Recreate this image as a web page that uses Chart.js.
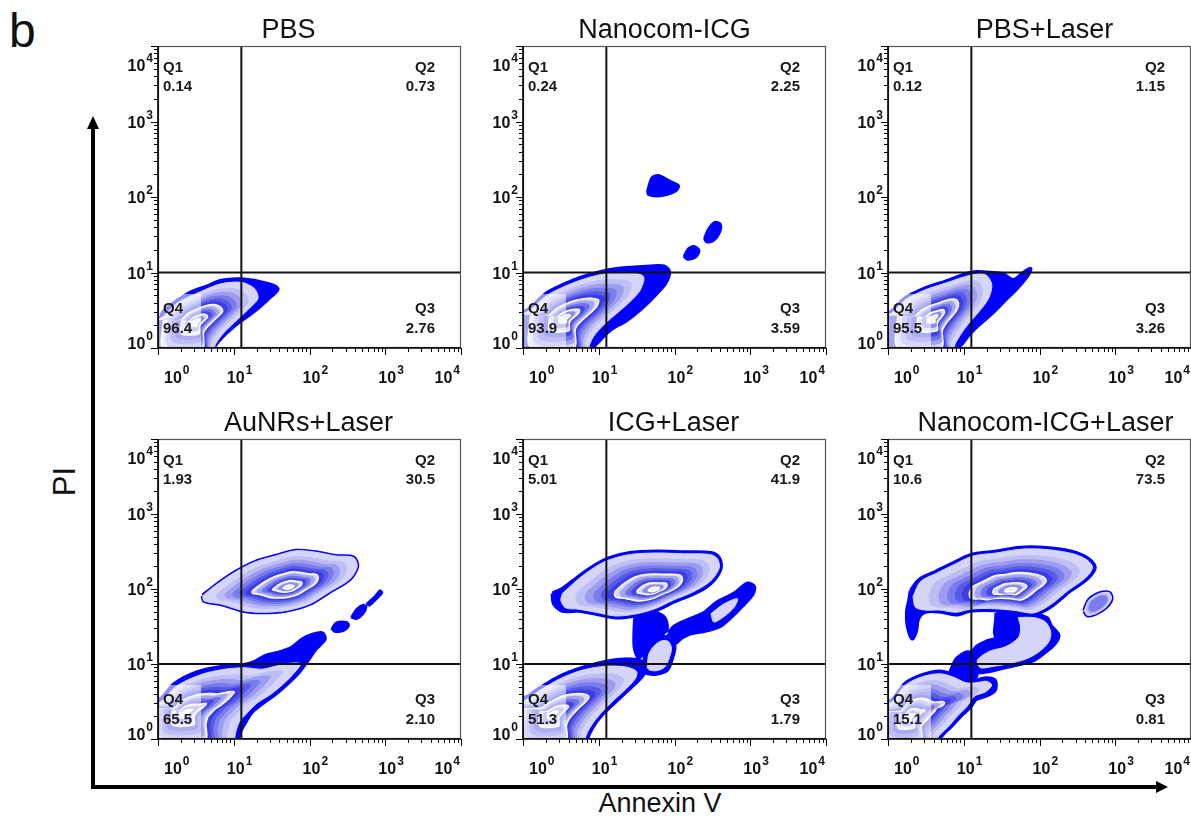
<!DOCTYPE html>
<html>
<head>
<meta charset="utf-8">
<script src="https://cdn.jsdelivr.net/npm/chart.js@4.4.1/dist/chart.umd.min.js"></script>
<style>
  html, body { margin: 0; padding: 0; background: #fff; overflow: hidden; width: 1191px; height: 823px; }
  #fig { position: relative; width: 1191px; height: 823px; }
  #fig canvas { position: absolute; }
  .txt { position: absolute; font-family: "Liberation Sans", Arial, sans-serif; color: #111; line-height: 1; white-space: nowrap; }
  .bar { position: absolute; background: #000; }
</style>
</head>
<body>
<div id="fig">
  <div class="txt" style="left:9px;top:7px;font-size:48px">b</div>
  <div class="txt" style="left:33.5px;top:466px;width:60px;height:31px;text-align:center;font-size:31px;transform:rotate(-90deg)">PI</div>
  <div class="txt" style="left:560px;top:790px;width:200px;text-align:center;font-size:27px">Annexin V</div>
  <div class="bar" style="left:90.5px;top:127px;width:4px;height:661px"></div>
  <div class="bar" style="left:90.5px;top:784.5px;width:1067px;height:4px"></div>
  <div style="position:absolute;left:86.5px;top:116px;width:0;height:0;border-left:6px solid transparent;border-right:6px solid transparent;border-bottom:13px solid #000"></div>
  <div style="position:absolute;left:1156px;top:780.5px;width:0;height:0;border-top:6px solid transparent;border-bottom:6px solid transparent;border-left:12px solid #000"></div>
</div>
<script>
// ---- data ----
const panelTitles = ["PBS", "Nanocom-ICG", "PBS+Laser", "AuNRs+Laser", "ICG+Laser", "Nanocom-ICG+Laser"];
const q1Values = ["0.14", "0.24", "0.12", "1.93", "5.01", "10.6"];
const q2Values = ["0.73", "2.25", "1.15", "30.5", "41.9", "73.5"];
const q3Values = ["2.76", "3.59", "3.26", "2.10", "1.79", "0.81"];
const q4Values = ["96.4", "93.9", "95.5", "65.5", "51.3", "15.1"];
const decadeTicks = [1, 10, 100, 1000, 10000];
const decadeExps = ["0", "1", "2", "3", "4"];
const gateAnnexin = 12.6;
const gatePI = 10;

// contour outlines, in decades [log10 AnnexinV, log10 PI]
const pbsEdge = [[-0.5,0.36],[0,0.36],[0.08,0.49],[0.40,0.72],[0.66,0.82],[0.83,0.89],[1.10,0.91],[1.45,0.85],[1.58,0.78],[1.45,0.65],[1.27,0.49],[1.00,0.29],[0.83,0.13],[0.74,0],[0.7,-0.5],[-0.5,-0.5],[-0.5,0.36]];
const pbsCore = [[-0.5,0.38],[0,0.38],[0.26,0.60],[0.57,0.75],[0.83,0.85],[1.10,0.87],[1.27,0.79],[1.32,0.66],[1.20,0.52],[1.00,0.33],[0.86,0.19],[0.74,0],[0.7,-0.5],[-0.5,-0.5],[-0.5,0.38]];
const pbsPeak = [0.5, 0.35];

const nanoEdge = [[-0.5,0.48],[0.01,0.48],[0.32,0.73],[0.63,0.88],[0.89,0.97],[1.13,1.03],[1.37,1.06],[1.68,1.08],[1.86,1.08],[1.93,1.01],[1.88,0.86],[1.77,0.73],[1.59,0.55],[1.37,0.37],[1.15,0.24],[0.98,0.07],[0.93,0],[0.9,-0.5],[-0.5,-0.5],[-0.5,0.48]];
const nanoCore = [[-0.5,0.46],[0.01,0.46],[0.32,0.70],[0.63,0.85],[0.89,0.94],[1.13,0.99],[1.37,1.0],[1.59,0.95],[1.55,0.77],[1.42,0.62],[1.24,0.46],[1.07,0.31],[0.93,0.15],[0.87,0],[0.85,-0.5],[-0.5,-0.5],[-0.5,0.46]];
const nanoPeak = [0.55, 0.4];
const nanoDotA = [[1.64,2.09],[1.70,2.26],[1.79,2.29],[1.93,2.22],[2.06,2.15],[2.01,2.07],[1.81,2.01],[1.65,2.03],[1.64,2.09]];
const nanoDotB = [[2.39,1.45],[2.44,1.57],[2.53,1.67],[2.61,1.64],[2.60,1.53],[2.52,1.42],[2.42,1.40],[2.39,1.45]];
const nanoDotC = [[2.12,1.21],[2.18,1.32],[2.26,1.35],[2.33,1.29],[2.28,1.20],[2.17,1.17],[2.12,1.21]];

const laserEdge = [[-0.5,0.46],[0,0.46],[0.23,0.66],[0.49,0.79],[0.76,0.88],[1.11,1.0],[1.29,1.0],[1.51,0.98],[1.66,0.90],[1.78,0.99],[1.88,1.05],[1.84,0.96],[1.70,0.79],[1.55,0.64],[1.37,0.46],[1.20,0.31],[1.07,0.18],[0.96,0.04],[0.91,0],[0.88,-0.5],[-0.5,-0.5],[-0.5,0.46]];
const laserCore = [[-0.5,0.44],[0,0.44],[0.23,0.64],[0.49,0.77],[0.76,0.86],[1.11,0.97],[1.29,0.97],[1.37,0.84],[1.33,0.66],[1.20,0.48],[1.07,0.33],[0.96,0.18],[0.87,0],[0.85,-0.5],[-0.5,-0.5],[-0.5,0.44]];
const laserPeak = [0.6, 0.4];

const aunrLowEdge = [[-0.5,0.51],[0,0.51],[0.21,0.73],[0.52,0.89],[0.83,0.96],[1.10,0.98],[1.28,1.03],[1.42,1.11],[1.59,1.15],[1.77,1.22],[1.91,1.33],[2.04,1.39],[2.17,1.41],[2.20,1.33],[2.08,1.20],[1.97,1.04],[1.86,0.89],[1.73,0.76],[1.55,0.60],[1.37,0.47],[1.24,0.36],[1.15,0.22],[1.08,0.09],[1.06,0],[1.04,-0.5],[-0.5,-0.5],[-0.5,0.51]];
const aunrLowCore = [[-0.5,0.48],[0,0.48],[0.25,0.71],[0.57,0.86],[0.88,0.93],[1.15,0.95],[1.37,0.93],[1.55,0.97],[1.75,1.01],[1.88,1.0],[1.78,0.86],[1.64,0.72],[1.48,0.59],[1.31,0.48],[1.18,0.35],[1.07,0.22],[1.01,0],[0.99,-0.5],[-0.5,-0.5],[-0.5,0.48]];
const aunrLowPeak = [0.35, 0.35];
const aunrHighEdge = [[0.59,1.91],[0.75,2.04],[1.01,2.22],[1.28,2.36],[1.55,2.44],[1.82,2.51],[2.08,2.49],[2.35,2.44],[2.58,2.42],[2.63,2.30],[2.53,2.13],[2.26,1.96],[2.0,1.80],[1.68,1.71],[1.37,1.69],[1.13,1.71],[0.83,1.80],[0.61,1.84],[0.59,1.91]];
const aunrHighPeak = [1.73, 2.02];
const aunrDot1 = [[2.29,1.47],[2.35,1.55],[2.49,1.56],[2.52,1.51],[2.44,1.44],[2.33,1.43],[2.29,1.47]];
const aunrDot2 = [[2.55,1.62],[2.62,1.73],[2.71,1.79],[2.75,1.76],[2.71,1.67],[2.62,1.60],[2.55,1.62]];
const aunrDot3 = [[2.75,1.80],[2.87,1.91],[2.93,1.98],[2.96,1.95],[2.89,1.87],[2.79,1.78],[2.75,1.80]];

const icgHighEdge = [[0.39,1.94],[0.52,2.0],[0.74,2.17],[0.96,2.32],[1.14,2.41],[1.41,2.48],[1.76,2.50],[2.12,2.49],[2.48,2.48],[2.59,2.41],[2.61,2.28],[2.52,2.12],[2.39,2.01],[2.21,1.92],[1.99,1.83],[1.76,1.72],[1.50,1.65],[1.23,1.62],[0.96,1.67],[0.74,1.71],[0.52,1.71],[0.41,1.80],[0.39,1.94]];
const icgHighCore = [[0.52,1.94],[0.74,2.14],[0.96,2.30],[1.14,2.39],[1.41,2.46],[1.76,2.48],[2.12,2.47],[2.47,2.46],[2.57,2.40],[2.59,2.28],[2.50,2.13],[2.37,2.03],[2.20,1.94],[1.98,1.85],[1.75,1.74],[1.50,1.67],[1.23,1.64],[0.96,1.69],[0.74,1.73],[0.56,1.75],[0.50,1.85],[0.52,1.94]];
const icgHighPeak = [1.74, 1.99];
const icgLowEdge = [[-0.5,0.54],[0,0.54],[0.21,0.67],[0.48,0.83],[0.79,0.95],[1.10,1.03],[1.36,1.06],[1.54,1.0],[1.60,0.89],[1.52,0.78],[1.36,0.63],[1.19,0.47],[1.03,0.31],[0.92,0.16],[0.85,0],[0.83,-0.5],[-0.5,-0.5],[-0.5,0.54]];
const icgLowCore = [[-0.5,0.51],[0,0.51],[0.21,0.64],[0.48,0.80],[0.79,0.92],[1.10,0.97],[1.36,0.96],[1.50,0.90],[1.48,0.80],[1.33,0.64],[1.16,0.48],[1.00,0.31],[0.89,0.16],[0.82,0],[0.80,-0.5],[-0.5,-0.5],[-0.5,0.51]];
const icgLowPeak = [0.39, 0.33];
const icgMidEdge = [[1.59,0.92],[1.62,1.14],[1.70,1.27],[1.83,1.36],[1.94,1.34],[2.0,1.23],[1.96,1.05],[1.90,0.92],[1.76,0.87],[1.64,0.88],[1.59,0.92]];
const icgMidCore = [[1.64,0.95],[1.66,1.13],[1.73,1.24],[1.83,1.31],[1.92,1.30],[1.96,1.21],[1.92,1.05],[1.86,0.95],[1.76,0.91],[1.67,0.92],[1.64,0.95]];
const icgNeck = [[1.46,1.50],[1.48,1.64],[1.59,1.68],[1.76,1.69],[1.88,1.62],[1.91,1.46],[1.81,1.36],[1.70,1.27],[1.61,1.14],[1.52,1.07],[1.46,1.23],[1.46,1.50]];
const icgJoin = [[1.10,1.01],[1.36,1.07],[1.56,1.05],[1.59,0.96],[1.50,0.92],[1.32,0.94],[1.14,0.96],[1.10,1.01]];
const icgBandEdge = [[1.92,1.41],[2.0,1.50],[2.16,1.58],[2.39,1.68],[2.56,1.82],[2.79,1.94],[2.96,2.07],[3.05,2.03],[3.03,1.93],[2.88,1.76],[2.74,1.62],[2.59,1.50],[2.39,1.44],[2.21,1.41],[2.08,1.34],[1.99,1.27],[1.92,1.41]];
const icgBandCore = [[2.48,1.67],[2.65,1.80],[2.83,1.87],[2.79,1.76],[2.65,1.63],[2.52,1.56],[2.48,1.67]];

const comboHighEdge = [[0.30,1.98],[0.41,2.12],[0.63,2.23],[0.85,2.34],[1.12,2.46],[1.43,2.50],[1.74,2.55],[2.05,2.55],[2.41,2.50],[2.63,2.41],[2.73,2.29],[2.63,2.14],[2.41,1.98],[2.14,1.76],[1.92,1.66],[1.70,1.69],[1.52,1.71],[1.30,1.72],[1.08,1.71],[0.90,1.66],[0.68,1.70],[0.50,1.70],[0.40,1.61],[0.37,1.44],[0.32,1.34],[0.26,1.51],[0.25,1.69],[0.28,1.85],[0.30,1.98]];
const comboHighCore = [[0.33,1.90],[0.43,2.10],[0.64,2.21],[0.86,2.32],[1.12,2.44],[1.43,2.48],[1.74,2.53],[2.05,2.53],[2.40,2.48],[2.61,2.40],[2.70,2.29],[2.61,2.15],[2.39,1.99],[2.13,1.78],[1.92,1.68],[1.70,1.71],[1.52,1.73],[1.30,1.74],[1.08,1.73],[0.90,1.69],[0.68,1.72],[0.48,1.72],[0.36,1.76],[0.33,1.90]];
const comboHighPeak = [1.63, 1.98];
const comboMidEdge = [[1.43,1.68],[1.70,1.70],[1.92,1.67],[2.10,1.61],[2.15,1.51],[2.25,1.38],[2.19,1.26],[2.05,1.14],[1.92,1.05],[1.74,1.0],[1.52,0.95],[1.30,0.90],[1.16,0.90],[1.08,1.05],[1.16,1.22],[1.30,1.30],[1.43,1.35],[1.43,1.50],[1.43,1.68]];
const comboMidCore = [[1.72,1.62],[1.92,1.62],[2.08,1.56],[2.15,1.42],[2.12,1.29],[1.99,1.16],[1.83,1.07],[1.62,1.01],[1.40,0.97],[1.22,0.95],[1.18,1.05],[1.34,1.17],[1.55,1.23],[1.72,1.35],[1.75,1.48],[1.72,1.62]];
const comboNeck = [[1.43,1.68],[1.55,1.66],[1.68,1.60],[1.72,1.45],[1.62,1.31],[1.48,1.30],[1.40,1.40],[1.43,1.68]];
const comboKnot = [[0.81,0.90],[0.90,1.08],[1.05,1.17],[1.16,1.12],[1.19,0.94],[1.16,0.81],[0.99,0.81],[0.83,0.81],[0.81,0.90]];
const comboLowEdge = [[-0.5,0.49],[0.01,0.49],[0.23,0.74],[0.45,0.85],[0.68,0.90],[0.85,0.86],[1.03,0.78],[1.16,0.78],[1.30,0.81],[1.41,0.78],[1.41,0.65],[1.30,0.58],[1.16,0.53],[1.08,0.42],[0.96,0.31],[0.85,0.19],[0.74,0.08],[0.68,0],[0.66,-0.5],[-0.5,-0.5],[-0.5,0.49]];
const comboLowCore = [[-0.5,0.47],[0.01,0.47],[0.23,0.72],[0.45,0.83],[0.68,0.87],[0.85,0.83],[1.03,0.75],[1.16,0.75],[1.30,0.77],[1.37,0.72],[1.29,0.63],[1.14,0.57],[1.04,0.43],[0.93,0.32],[0.82,0.19],[0.71,0.08],[0.65,0],[0.63,-0.5],[-0.5,-0.5],[-0.5,0.47]];
const comboLowPeak = [0.28, 0.3];
const comboRing = [[2.59,1.71],[2.65,1.85],[2.79,1.94],[2.92,1.95],[2.95,1.87],[2.88,1.76],[2.74,1.67],[2.63,1.65],[2.59,1.71]];
const comboRingPeak = [2.77, 1.81];

// which shapes go in which panel
const panels = [
  { blobs: [], pops: [{ edge: pbsEdge, core: pbsCore, peak: pbsPeak, rings: 12 }] },
  { blobs: [nanoDotA, nanoDotB, nanoDotC], pops: [{ edge: nanoEdge, core: nanoCore, peak: nanoPeak, rings: 12 }] },
  { blobs: [], pops: [{ edge: laserEdge, core: laserCore, peak: laserPeak, rings: 12 }] },
  { blobs: [aunrDot1, aunrDot2, aunrDot3], pops: [
      { edge: aunrLowEdge, core: aunrLowCore, peak: aunrLowPeak, rings: 12 },
      { edge: aunrHighEdge, peak: aunrHighPeak, rings: 12 }] },
  { blobs: [icgJoin, icgNeck], pops: [
      { edge: icgLowEdge, core: icgLowCore, peak: icgLowPeak, rings: 12 },
      { edge: icgMidEdge, core: icgMidCore, peak: null, rings: 0 },
      { edge: icgBandEdge, core: icgBandCore, peak: null, rings: 0 },
      { edge: icgHighEdge, core: icgHighCore, peak: icgHighPeak, rings: 12 }] },
  { blobs: [comboKnot, comboNeck], pops: [
      { edge: comboLowEdge, core: comboLowCore, peak: comboLowPeak, rings: 12 },
      { edge: comboMidEdge, core: comboMidCore, peak: null, rings: 0 },
      { edge: comboRing, peak: comboRingPeak, rings: 3 },
      { edge: comboHighEdge, core: comboHighCore, peak: comboHighPeak, rings: 12 }] },
];

// ---- look ----
const FONT = '"Liberation Sans", Arial, Helvetica, sans-serif';
const BLUE = "#0000ff";
const LAVENDER = "#d5d5f7";
const RING_STEPS = [
  { s: 0.84, c: "#bdbef4" },
  { s: 0.74, c: "#9c9df0" },
  { s: 0.65, c: "#7a7cec" },
  { s: 0.57, c: "#5759e8" },
  { s: 0.50, c: "#3a3ce4" },
  { s: 0.43, c: "#d6d6f7", white: true },
  { s: 0.37, c: "#a2a3f1" },
  { s: 0.31, c: "#7072eb" },
  { s: 0.25, c: "#4446e5" },
  { s: 0.19, c: "#d6d6f7", white: true },
  { s: 0.13, c: "#8a8cee" },
  { s: 0.07, c: "#eeeefc", white: true },
];
const COL_LEFT = [158, 523, 888];
const ROW_TOP = [46, 439];
const ROW_H = [302, 300];
const AREA_W = 303;
const PAD = { left: 60, top: 46, right: 12, bottom: 44 };
const TITLE_SHIFT = [-21, -10, 5, -1, -1, 6];

const toPoints = (poly) => poly.map(([lx, ly]) => ({ x: Math.pow(10, lx), y: Math.pow(10, ly) }));
const shrink = (poly, peak, s) =>
  poly.map(([lx, ly]) => [peak[0] + (lx - peak[0]) * s, peak[1] + (ly - peak[1]) * s]);

function shape(poly, fill, stroke, width) {
  return {
    data: toPoints(poly),
    showLine: true,
    fill: "shape",
    backgroundColor: fill,
    borderColor: stroke,
    borderWidth: width,
    borderJoinStyle: "round",
    pointRadius: 0,
    pointHoverRadius: 0,
    tension: 0.3,
    clip: 0,
  };
}

function gateLine(points) {
  return {
    data: points,
    showLine: true,
    fill: false,
    borderColor: "#111",
    borderWidth: 2,
    pointRadius: 0,
    pointHoverRadius: 0,
    tension: 0,
    clip: 0,
  };
}

function buildDatasets(panel) {
  const sets = [];
  panel.blobs.forEach((poly) => sets.push(shape(poly, BLUE, BLUE, 2)));
  panel.pops.forEach((pop) => {
    const core = pop.core || pop.edge;
    sets.push(shape(pop.edge, BLUE, BLUE, 4));
    sets.push(shape(core, LAVENDER, LAVENDER, 1));
    RING_STEPS.slice(0, pop.rings).forEach((step) => {
      const poly = shrink(core, pop.peak, step.s);
      sets.push(step.white ? shape(poly, step.c, "#ffffff", 1.4) : shape(poly, step.c, step.c, 1));
    });
  });
  sets.push(gateLine([{ x: gateAnnexin, y: 0.3 }, { x: gateAnnexin, y: 30000 }]));
  sets.push(gateLine([{ x: 0.3, y: gatePI }, { x: 30000, y: gatePI }]));
  sets.forEach((d, i) => { d.order = sets.length - i; });
  return sets;
}

function powLabel(ctx, exp, x, base, mode) {
  ctx.font = "bold 16px " + FONT;
  const w1 = ctx.measureText("10").width;
  ctx.font = "bold 12px " + FONT;
  const w2 = ctx.measureText(exp).width;
  let x0 = x - w1 / 2;
  if (mode === "left") x0 = x;
  if (mode === "right") x0 = x - w1 - 1 - w2;
  ctx.textAlign = "left";
  ctx.font = "bold 16px " + FONT;
  ctx.fillText("10", x0, base);
  ctx.font = "bold 12px " + FONT;
  ctx.fillText(exp, x0 + w1 + 1, base - 9);
}

const flowPanel = {
  id: "flowPanel",
  afterDatasetsDraw(chart, args, opts) {
    const { ctx, chartArea: a } = chart;
    const xs = chart.scales.x;
    const ys = chart.scales.y;
    const i = opts.index;
    ctx.save();

    // washed box behind the Q4 label
    ctx.fillStyle = "rgba(255,255,255,0.55)";
    ctx.fillRect(a.left, a.bottom - 54, 43, 54);

    // frame
    ctx.strokeStyle = "#555";
    ctx.lineWidth = 1.2;
    ctx.strokeRect(a.left + 0.5, a.top + 0.5, a.right - a.left - 1, a.bottom - a.top - 1);
    ctx.strokeStyle = "#000";
    ctx.lineWidth = 1.6;
    ctx.beginPath();
    ctx.moveTo(a.left, a.top);
    ctx.lineTo(a.left, a.bottom);
    ctx.lineTo(a.right, a.bottom);
    ctx.stroke();

    // log ticks
    ctx.lineWidth = 1;
    ctx.beginPath();
    decadeTicks.forEach((dv, d) => {
      for (let m = 1; m <= 9; m++) {
        if (d === decadeTicks.length - 1 && m > 1) break;
        const v = dv * m;
        const len = m === 1 ? 7 : 4;
        const px = Math.round(xs.getPixelForValue(v)) + 0.5;
        ctx.moveTo(px, a.bottom);
        ctx.lineTo(px, a.bottom + len);
        const py = Math.round(ys.getPixelForValue(v)) + 0.5;
        ctx.moveTo(a.left - len, py);
        ctx.lineTo(a.left, py);
      }
    });
    ctx.stroke();

    // tick labels
    ctx.fillStyle = "#111";
    const last = decadeTicks.length - 1;
    decadeTicks.forEach((v, d) => {
      const px = xs.getPixelForValue(v);
      const base = a.bottom + 35;
      if (d === 0) powLabel(ctx, decadeExps[d], a.left + 6, base, "left");
      else if (d === last) powLabel(ctx, decadeExps[d], a.right - 1, base, "right");
      else powLabel(ctx, decadeExps[d], px + 2, base, "center");

      const py = ys.getPixelForValue(v);
      let yb = py + 6;
      if (d === 0) yb = a.bottom + 1;
      if (d === last) yb = a.top + 25;
      powLabel(ctx, decadeExps[d], a.left - 5, yb, "right");
    });

    // quadrant labels
    ctx.font = "bold 15px " + FONT;
    ctx.fillStyle = "#1a1a1a";
    ctx.textAlign = "left";
    ctx.fillText("Q1", a.left + 5, a.top + 26);
    ctx.fillText(q1Values[i], a.left + 5, a.top + 45);
    ctx.fillText("Q4", a.left + 5, a.bottom - 35);
    ctx.fillText(q4Values[i], a.left + 5, a.bottom - 15);
    ctx.textAlign = "right";
    ctx.fillText("Q2", a.right - 26, a.top + 26);
    ctx.fillText(q2Values[i], a.right - 26, a.top + 45);
    ctx.fillText("Q3", a.right - 26, a.bottom - 35);
    ctx.fillText(q3Values[i], a.right - 26, a.bottom - 15);

    // panel title
    ctx.font = "27px " + FONT;
    ctx.fillStyle = "#111";
    ctx.textAlign = "center";
    ctx.fillText(panelTitles[i], (a.left + a.right) / 2 + TITLE_SHIFT[i], a.top - 8);
    ctx.restore();
  },
};

const fig = document.getElementById("fig");
panels.forEach((panel, i) => {
  const col = i % 3;
  const row = Math.floor(i / 3);
  const canvas = document.createElement("canvas");
  const w = PAD.left + AREA_W + PAD.right;
  const h = PAD.top + ROW_H[row] + PAD.bottom;
  canvas.width = w;
  canvas.height = h;
  canvas.style.width = w + "px";
  canvas.style.height = h + "px";
  canvas.style.left = COL_LEFT[col] - PAD.left + "px";
  canvas.style.top = ROW_TOP[row] - PAD.top + "px";
  fig.appendChild(canvas);

  const axis = (fitKey) => ({
    type: "logarithmic",
    min: 1,
    max: 10000,
    grid: { display: false },
    border: { display: false },
    ticks: { display: false },
    afterFit: (s) => { s[fitKey] = 0; },
  });

  new Chart(canvas, {
    type: "scatter",
    data: { datasets: buildDatasets(panel) },
    options: {
      responsive: false,
      animation: false,
      devicePixelRatio: 1,
      layout: { padding: PAD },
      elements: { line: { capBezierPoints: false } },
      scales: { x: axis("height"), y: axis("width") },
      plugins: {
        legend: { display: false },
        tooltip: { enabled: false },
        flowPanel: { index: i },
      },
    },
    plugins: [flowPanel],
  });
});
</script>
</body>
</html>
